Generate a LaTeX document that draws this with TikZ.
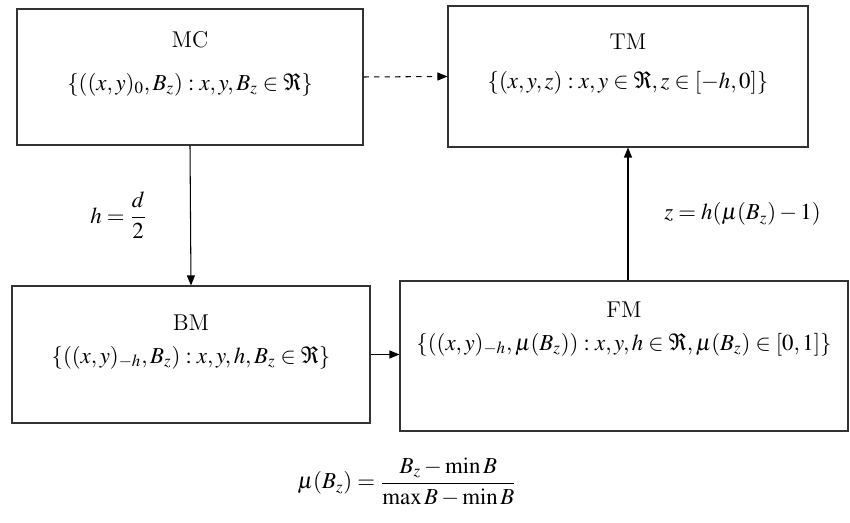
\documentclass[tikz,border=0pt]{standalone}
\usepackage{mathptmx}
\usepackage{amsmath}
\usetikzlibrary{arrows.meta}

\begin{document}
\begin{tikzpicture}[
    box/.style={draw=black!80, semithick, rectangle, inner sep=0pt},
    flow/.style={-{Triangle[length=2mm, width=1.6mm]}, semithick},
    font=\fontsize{13}{15}\selectfont
  ]
    % fixed frame of the figure
    \useasboundingbox (0,0) rectangle (17,10.46);

    % The four boxes
    \node[box, minimum width=6.92cm, minimum height=2.72cm] (MC) at (3.8,8.92) {};
    \node[box, minimum width=7.2cm, minimum height=2.82cm] (TM) at (12.56,8.93) {};
    \node[box, minimum width=7.16cm, minimum height=2.74cm] (BM) at (3.82,3.37) {};
    \node[box, minimum width=8.96cm, minimum height=3.0cm] (FM) at (12.48,3.34) {};

    % Titles and sets inside the boxes
    \node (MCtitle) at ([yshift=-0.62cm]MC.north) {MC};
    \node (MCset) at ([yshift=-1.52cm]MC.north) {$\{((x,y)_0,B_z):x,y,B_z\in\Re\}$};
    \node (TMtitle) at ([yshift=-0.72cm]TM.north) {TM};
    \node (TMset) at ([yshift=-1.54cm]TM.north) {$\{(x,y,z):x,y\in\Re,z\in[-h,0]\}$};
    \node (BMtitle) at ([yshift=-0.74cm]BM.north) {BM};
    \node (BMset) at ([yshift=-1.44cm]BM.north) {$\{((x,y)_{-h},B_z):x,y,h,B_z\in\Re\}$};
    \node (FMtitle) at ([yshift=-0.58cm]FM.north) {FM};
    \node (FMset) at ([yshift=-1.28cm]FM.north) {$\{((x,y)_{-h},\mu(B_z)):x,y,h\in\Re,\mu(B_z)\in[0,1]\}$};

    % Connectors
    \draw[flow, dashed] (MC.east) -- (TM.west);
    \draw[flow] (MC.south) -- (BM.north)
        node[midway, left=0.75cm] (hlabel) {$h=\dfrac{d}{2}$};
    \draw[flow] (BM.east) -- (BM.east -| FM.west);
    \draw[flow] (FM.north -| TM.south) -- (TM.south)
        node[midway, right=0.6cm] (zlabel) {$z=h(\mu(B_z)-1)$};

    % Normalisation
    \node (mu) at (8.14,0.82) {$\mu(B_z)=\dfrac{B_z-\min B}{\max B-\min B}$};
\end{tikzpicture}
\end{document}
